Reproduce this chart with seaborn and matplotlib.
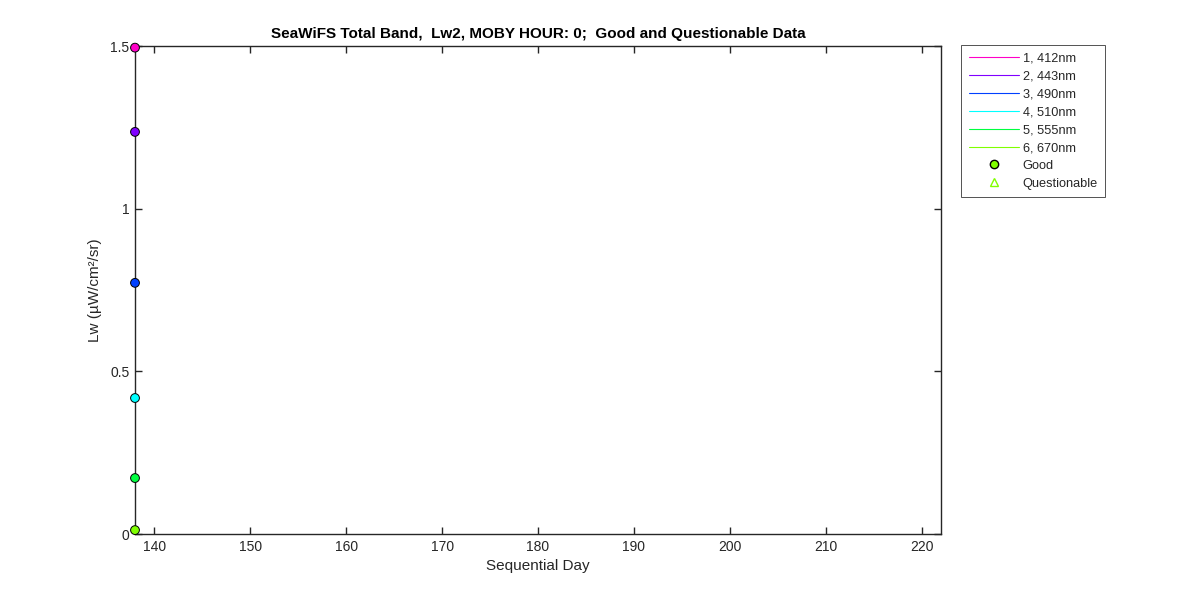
import matplotlib
matplotlib.use("Agg")
import matplotlib.pyplot as plt
from matplotlib.lines import Line2D
import seaborn as sns
import pandas as pd

bands = ["1, 412nm", "2, 443nm", "3, 490nm", "4, 510nm", "5, 555nm", "6, 670nm"]
band_colors = ["#ff00c8", "#8000ff", "#0040ff", "#00ffff", "#00ff40", "#80ff00"]
days = [138, 138, 138, 138, 138, 138]
lw_values = [1.495, 1.236, 0.772, 0.418, 0.172, 0.012]
quality = ["Good"] * 6

sns.set_theme(style="white")
plt.rcParams['font.family'] = ['Liberation Sans', 'DejaVu Sans']
plt.rcParams.update({"axes.linewidth": 1.0, "axes.edgecolor": "#262626",
                     "axes.axisbelow": False,
                     "xtick.bottom": True, "ytick.left": True,
                     "xtick.top": True, "ytick.right": True,
                     "xtick.direction": "in", "ytick.direction": "in"})

df = pd.DataFrame({"day": days, "Lw": lw_values, "band": bands, "quality": quality})

fig = plt.figure(figsize=(12, 6), dpi=100)
ax = fig.add_axes([0.1125, 0.11, 0.6717, 0.8133])
ax.set_axisbelow(False)

# lines per band (single point each, so invisible)
sns.lineplot(data=df, x="day", y="Lw", hue="band", palette=band_colors,
             linewidth=0.8, legend=False, ax=ax)
good = df[df["quality"] == "Good"]
sns.scatterplot(data=good, x="day", y="Lw", hue="band", palette=band_colors,
                s=40, edgecolor="black", linewidth=0.7, legend=False, ax=ax,
                zorder=5, clip_on=False)

ax.set_xlim(138, 222)
ax.set_ylim(0, 1.5)
ax.set_xticks(range(140, 221, 10))
ax.set_yticks([0, 0.5, 1, 1.5])
ax.set_yticklabels(["0", "0.5", "1", "1.5"])
ax.tick_params(axis="both", which="both", direction="in", top=True, right=True,
               bottom=True, left=True, length=5, width=1.0, labelsize=10,
               color="#262626", labelcolor="#262626", pad=4)
ax.set_xlabel("Sequential Day", fontsize=11, color="#262626")
ax.set_ylabel("Lw (\u00b5W/cm\u00b2/sr)", fontsize=11, color="#262626", labelpad=6)
ax.set_title("SeaWiFS Total Band,  Lw2, MOBY HOUR: 0;  Good and Questionable Data",
             fontsize=11, fontweight="bold", color="black", pad=6)

handles = [Line2D([0], [0], color=c, lw=0.8) for c in band_colors]
handles.append(Line2D([0], [0], marker="o", color="none", markerfacecolor="#80ff00",
                      markeredgecolor="black", markersize=6))
handles.append(Line2D([0], [0], marker="^", color="none", markerfacecolor="none",
                      markeredgecolor="#80ff00", markersize=6))
labels = bands + ["Good", "Questionable"]
leg = fig.legend(handles, labels, loc="upper left", bbox_to_anchor=(0.801, 0.925),
                 borderaxespad=0, fontsize=9.2, frameon=True, fancybox=False,
                 edgecolor="#262626", handlelength=3.9, handletextpad=0.3,
                 labelspacing=0.46, borderpad=0.6)
leg.get_frame().set_linewidth(0.7)

fig.savefig("out.png", dpi=100, facecolor="white")
